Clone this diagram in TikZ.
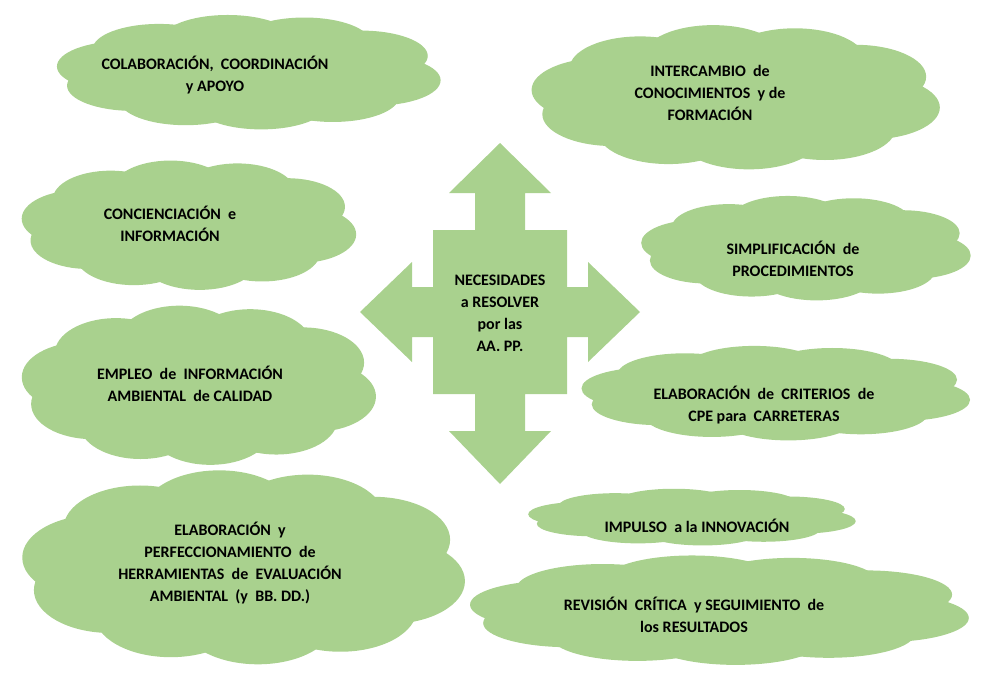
\documentclass[tikz,border=0pt]{standalone}
\usepackage{fontspec}
\setmainfont{Carlito}
\definecolor{cl}{HTML}{A9D18E}
\tikzset{
 tx/.style={font=\bfseries\fontsize{12}{16.5}\selectfont, align=center, text=black}
}
\newcommand{\mycloud}[4]{%
 \fill[cl] (#1,#2) ellipse[x radius=0.4*#3, y radius=0.36*#4];
 \foreach \a in {15,50,...,355}{
  \fill[cl] ({#1+0.33*#3*cos(\a)},{#2+0.28*#4*sin(\a)}) ellipse[x radius=0.17*#3, y radius=0.22*#4];
 }}
\begin{document}
\begin{tikzpicture}[x=0.75pt,y=-0.75pt]
\useasboundingbox (0,0) rectangle (992,682);
\mycloud{250}{72}{390}{115}
\node[tx] (t1) at (215,75) {COLABORACIÓN,\ \ COORDINACIÓN\\y APOYO};
\mycloud{737}{97}{415}{145}
\node[tx] (t2) at (710,93) {INTERCAMBIO\ \ de\\CONOCIMIENTOS\ \ y de\\FORMACIÓN};
\mycloud{190}{225}{340}{130}
\node[tx] (t3) at (170,224) {CONCIENCIACIÓN\ \ e\\INFORMACIÓN};
\mycloud{807}{248}{335}{105}
\node[tx] (t4) at (793,259) {SIMPLIFICACIÓN\ \ de\\PROCEDIMIENTOS};
\mycloud{200}{385}{360}{160}
\node[tx] (t5) at (190,384) {EMPLEO\ \ de\ \ INFORMACIÓN\\AMBIENTAL\ \ de CALIDAD};
\mycloud{777}{393}{395}{95}
\node[tx] (t6) at (764,405) {ELABORACIÓN\ \ de\ \ CRITERIOS\ \ de\\CPE para\ \ CARRETERAS};
\mycloud{245}{567}{450}{195}
\node[tx] (t7) at (230,563) {ELABORACIÓN\ \ y\\PERFECCIONAMIENTO\ \ de\\HERRAMIENTAS\ \ de\ \ EVALUACIÓN\\AMBIENTAL\ \ (y\ \ BB.\ DD.)};
\mycloud{693}{517}{333}{57}
\node[tx] (t8) at (697,526) {IMPULSO\ \ a la INNOVACIÓN};
\mycloud{721}{610}{507}{110}
\node[tx] (t9) at (694,615) {REVISIÓN\ \ CRÍTICA\ \ y SEGUIMIENTO\ \ de\\los RESULTADOS};
\fill[cl] (500,143) -- (551,193) -- (525,193) -- (525,230) -- (567,230) -- (567,287)
 -- (588,287) -- (588,262) -- (640,312) -- (588,362) -- (588,337) -- (567,337) -- (567,394)
 -- (525,394) -- (525,431) -- (551,431) -- (500,484) -- (449,431) -- (475,431) -- (475,394)
 -- (433,394) -- (433,337) -- (412,337) -- (412,362) -- (360,312) -- (412,262) -- (412,287)
 -- (433,287) -- (433,230) -- (475,230) -- (475,193) -- (449,193) -- cycle;
\node[tx] (ct) at (500,313) {NECESIDADES\\a RESOLVER\\por las\\AA.\ PP.};
\end{tikzpicture}
\end{document}
